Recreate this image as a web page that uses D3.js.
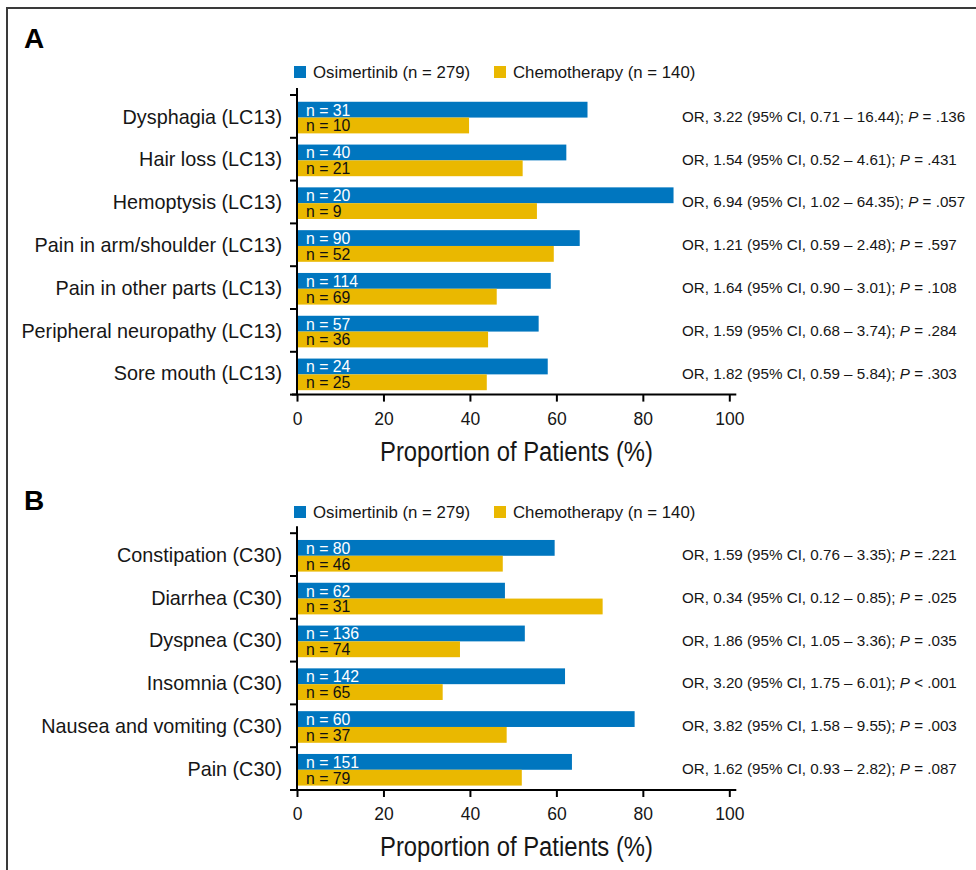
<!DOCTYPE html>
<html>
<head>
<meta charset="utf-8">
<script src="https://cdn.jsdelivr.net/npm/d3@7/dist/d3.min.js"></script>
<style>
  html, body { margin: 0; padding: 0; background: #fff; }
  svg { display: block; font-family: "Liberation Sans", Arial, Helvetica, sans-serif; }
</style>
</head>
<body>
<svg id="chart" width="976" height="870"></svg>
<script>
// ---- Panel A: EORTC QLQ-LC13 symptoms ----
const categoriesA = [
  "Dysphagia (LC13)", "Hair loss (LC13)", "Hemoptysis (LC13)",
  "Pain in arm/shoulder (LC13)", "Pain in other parts (LC13)",
  "Peripheral neuropathy (LC13)", "Sore mouth (LC13)"
];
const osimertinibA = [67.2, 62.3, 87.1, 65.4, 58.7, 55.9, 58.0];
const chemotherapyA = [39.8, 52.2, 55.5, 59.4, 46.2, 44.2, 43.9];
const osimertinibNA = [31, 40, 20, 90, 114, 57, 24];
const chemotherapyNA = [10, 21, 9, 52, 69, 36, 25];
const orA = ["3.22", "1.54", "6.94", "1.21", "1.64", "1.59", "1.82"];
const ciLowA = ["0.71", "0.52", "1.02", "0.59", "0.90", "0.68", "0.59"];
const ciHighA = ["16.44", "4.61", "64.35", "2.48", "3.01", "3.74", "5.84"];
const pA = ["= .136", "= .431", "= .057", "= .597", "= .108", "= .284", "= .303"];

// ---- Panel B: EORTC QLQ-C30 symptoms ----
const categoriesB = [
  "Constipation (C30)", "Diarrhea (C30)", "Dyspnea (C30)",
  "Insomnia (C30)", "Nausea and vomiting (C30)", "Pain (C30)"
];
const osimertinibB = [59.6, 48.1, 52.7, 62.0, 78.1, 63.6];
const chemotherapyB = [47.6, 70.7, 37.7, 33.7, 48.5, 52.0];
const osimertinibNB = [80, 62, 136, 142, 60, 151];
const chemotherapyNB = [46, 31, 74, 65, 37, 79];
const orB = ["1.59", "0.34", "1.86", "3.20", "3.82", "1.62"];
const ciLowB = ["0.76", "0.12", "1.05", "1.75", "1.58", "0.93"];
const ciHighB = ["3.35", "0.85", "3.36", "6.01", "9.55", "2.82"];
const pB = ["= .221", "= .025", "= .035", "< .001", "= .003", "= .087"];

const seriesNames = ["Osimertinib (n = 279)", "Chemotherapy (n = 140)"];
const xTicks = [0, 20, 40, 60, 80, 100];
const axisTitle = "Proportion of Patients (%)";

const colors = { osi: "#0076BF", chemo: "#EAB800" };
const ink = "#161616";

const svg = d3.select("#chart");

// outer frame (left and top edges)
svg.append("path")
  .attr("d", "M7,870 L7,8 L976,8")
  .attr("fill", "none")
  .attr("stroke", "#3a3a3a")
  .attr("stroke-width", 2);

const x = d3.scaleLinear().domain([0, 100]).range([297, 729.3]);

function drawPanel(opts) {
  const { letter, letterY, legendY, top, bottom, cats, osi, chemo, nOsi, nChemo, or, lo, hi, p } = opts;
  const g = svg.append("g");

  g.append("text")
    .attr("x", 24).attr("y", letterY)
    .attr("font-size", 28).attr("font-weight", "bold").attr("fill", "#000")
    .text(letter);

  // legend
  const legendItems = [
    { name: seriesNames[0], color: colors.osi, x: 294 },
    { name: seriesNames[1], color: colors.chemo, x: 494 }
  ];
  const lg = g.selectAll(".legend").data(legendItems).enter().append("g");
  lg.append("rect")
    .attr("x", d => d.x).attr("y", legendY)
    .attr("width", 12).attr("height", 12)
    .attr("fill", d => d.color);
  lg.append("text")
    .attr("x", d => d.x + 19).attr("y", legendY + 11.5)
    .attr("font-size", 16.8).attr("fill", ink)
    .text(d => d.name);

  const y = d3.scaleBand().domain(cats).range([top, bottom]).paddingInner(0).paddingOuter(0);
  const bw = y.bandwidth();
  const sub = d3.scaleBand().domain(["osi", "chemo"]).range([bw * 0.158, bw * 0.897]);

  const rows = cats.map((c, i) => ({
    cat: c, osi: osi[i], chemo: chemo[i], nOsi: nOsi[i], nChemo: nChemo[i],
    or: or[i], lo: lo[i], hi: hi[i], p: p[i]
  }));

  const row = g.selectAll(".row").data(rows).enter().append("g")
    .attr("transform", d => `translate(0,${y(d.cat)})`);

  // bars
  row.append("rect")
    .attr("x", x(0) + 1).attr("y", sub("osi"))
    .attr("width", d => x(d.osi) - x(0) - 1).attr("height", sub.bandwidth())
    .attr("fill", colors.osi);
  row.append("rect")
    .attr("x", x(0) + 1).attr("y", sub("chemo"))
    .attr("width", d => x(d.chemo) - x(0) - 1).attr("height", sub.bandwidth())
    .attr("fill", colors.chemo);

  // n labels inside bars
  row.append("text")
    .attr("x", x(0) + 9).attr("y", sub("osi") + sub.bandwidth() - 2)
    .attr("font-size", 15.8).attr("fill", "#fff")
    .text(d => `n = ${d.nOsi}`);
  row.append("text")
    .attr("x", x(0) + 9).attr("y", sub("chemo") + sub.bandwidth() - 2)
    .attr("font-size", 15.8).attr("fill", "#111")
    .text(d => `n = ${d.nChemo}`);

  // category labels
  row.append("text")
    .attr("x", 282).attr("y", bw / 2).attr("dy", "0.36em")
    .attr("text-anchor", "end").attr("font-size", 19.8).attr("fill", ink)
    .text(d => d.cat);

  // odds ratio annotations
  const ann = row.append("text")
    .attr("x", 682).attr("y", bw / 2).attr("dy", "0.36em")
    .attr("font-size", 15.2).attr("fill", ink);
  ann.append("tspan").text(d => `OR, ${d.or} (95% CI, ${d.lo} \u2013 ${d.hi}); `);
  ann.append("tspan").attr("font-style", "italic").text("P");
  ann.append("tspan").text(d => ` ${d.p}`);

  // y axis: vertical line with boundary ticks
  g.append("line")
    .attr("x1", x(0)).attr("x2", x(0))
    .attr("y1", top - 7).attr("y2", bottom)
    .attr("stroke", "#000").attr("stroke-width", 2);
  const boundaries = cats.map(c => y(c)).concat([bottom]);
  g.selectAll(".ytick").data(boundaries).enter().append("line")
    .attr("x1", x(0) - 7).attr("x2", x(0))
    .attr("y1", d => d).attr("y2", d => d)
    .attr("stroke", "#000").attr("stroke-width", 2);

  // x axis
  const axis = d3.axisBottom(x).tickValues(xTicks).tickSize(7).tickSizeOuter(0).tickFormat(d3.format("d"));
  const ax = g.append("g").attr("transform", `translate(0,${bottom})`).call(axis);
  ax.select(".domain").remove();
  ax.append("line")
    .attr("x1", x(0) - 5).attr("x2", x(100) + 7)
    .attr("y1", 0).attr("y2", 0)
    .attr("stroke", "#000").attr("stroke-width", 2);
  ax.selectAll(".tick line").attr("stroke", "#000").attr("stroke-width", 2);
  ax.selectAll(".tick text")
    .attr("y", 30).attr("dy", 0)
    .attr("font-size", 17.5).attr("fill", ink)
    .attr("font-family", "Liberation Sans, Arial, sans-serif");

  // axis title, set in a narrow width like a condensed face
  g.append("text")
    .attr("x", 380).attr("y", bottom + 66)
    .attr("font-size", 27).attr("fill", ink)
    .attr("textLength", 273).attr("lengthAdjust", "spacingAndGlyphs")
    .text(axisTitle);
}

drawPanel({
  letter: "A", letterY: 48, legendY: 66, top: 95, bottom: 394.6,
  cats: categoriesA, osi: osimertinibA, chemo: chemotherapyA,
  nOsi: osimertinibNA, nChemo: chemotherapyNA,
  or: orA, lo: ciLowA, hi: ciHighA, p: pA
});

drawPanel({
  letter: "B", letterY: 510, legendY: 506, top: 533.2, bottom: 790,
  cats: categoriesB, osi: osimertinibB, chemo: chemotherapyB,
  nOsi: osimertinibNB, nChemo: chemotherapyNB,
  or: orB, lo: ciLowB, hi: ciHighB, p: pB
});
</script>
</body>
</html>
